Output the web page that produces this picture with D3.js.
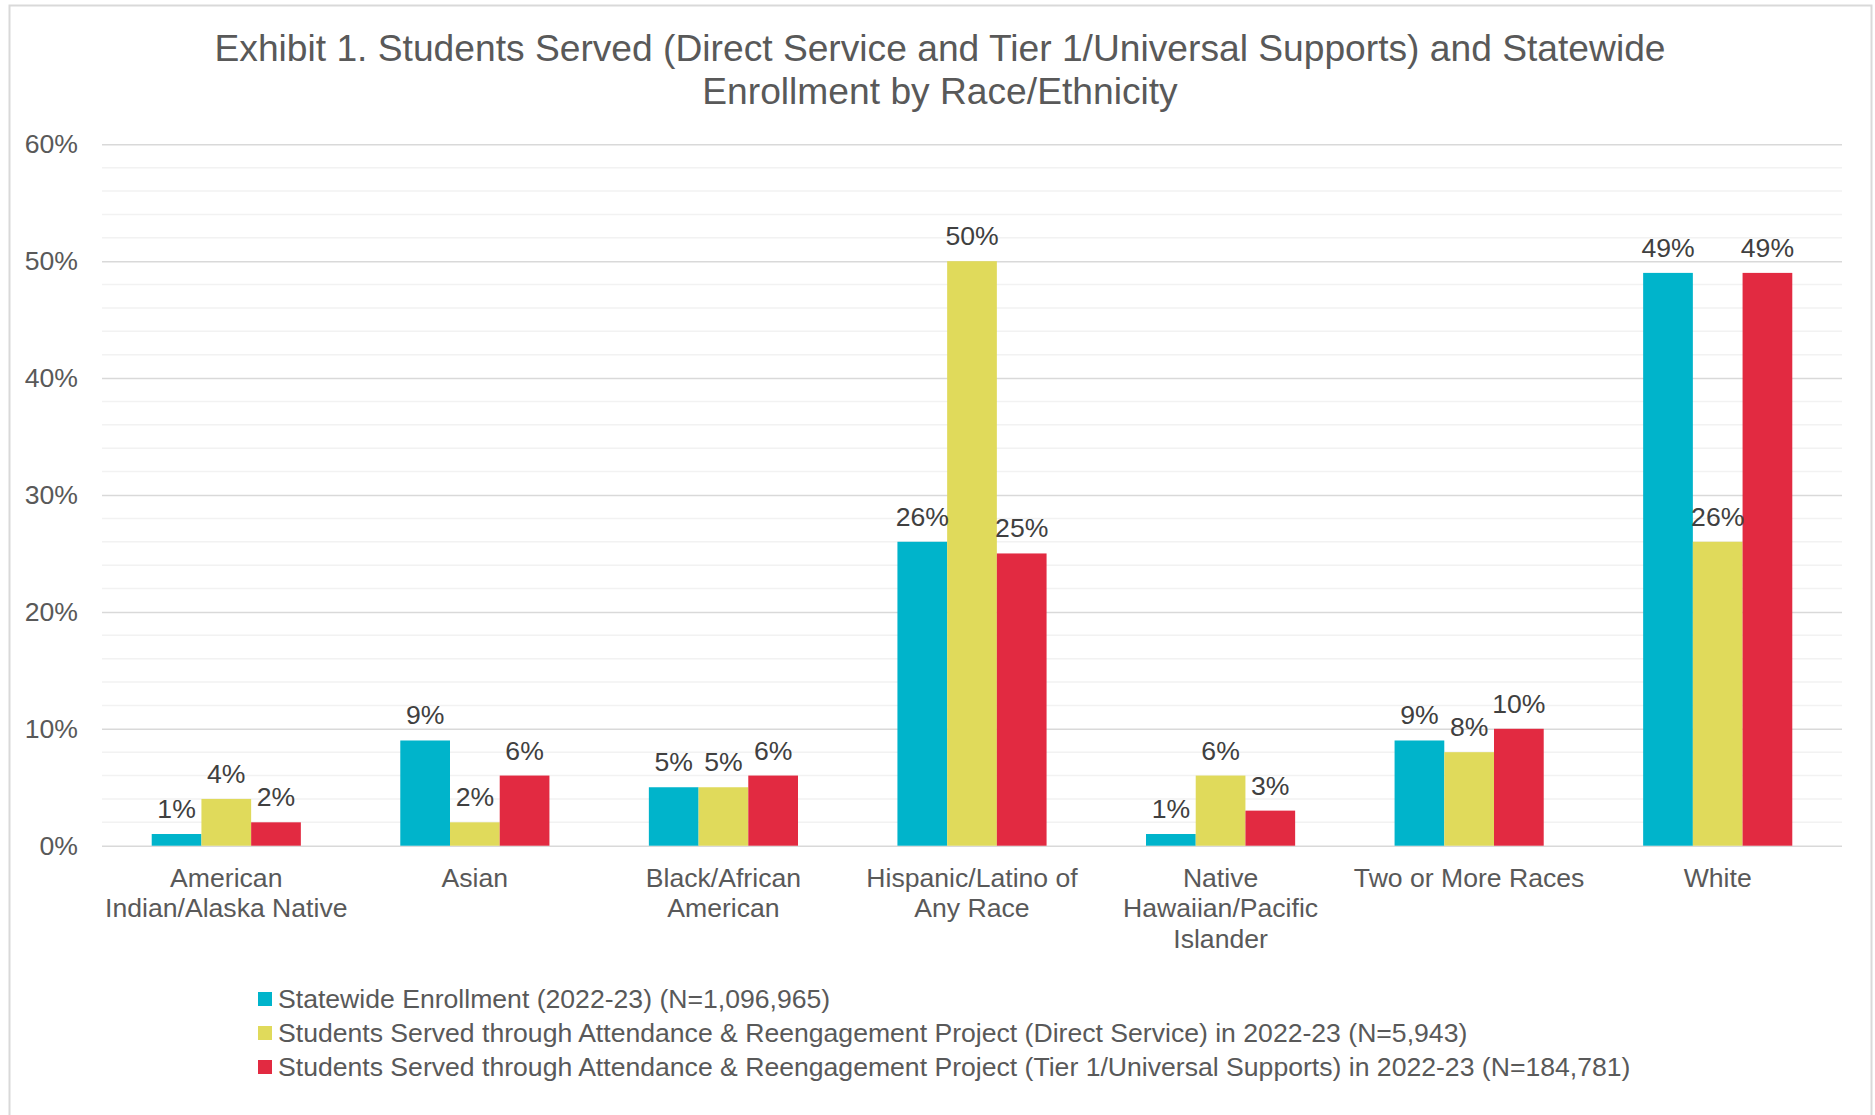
<!DOCTYPE html>
<html>
<head>
<meta charset="utf-8">
<script src="https://cdn.jsdelivr.net/npm/d3@7"></script>
<style>
  html, body { margin: 0; padding: 0; background: #fff; }
  svg { display: block; font-family: "Liberation Sans", Arial, sans-serif; }
</style>
</head>
<body>
<svg id="chart" width="1875" height="1115"></svg>
<script>
// Race/ethnicity categories (label lines as wrapped on the axis)
const categories = [
  "American Indian/Alaska Native",
  "Asian",
  "Black/African American",
  "Hispanic/Latino of Any Race",
  "Native Hawaiian/Pacific Islander",
  "Two or More Races",
  "White"
];
const categoryLines = [
  ["American", "Indian/Alaska Native"],
  ["Asian"],
  ["Black/African", "American"],
  ["Hispanic/Latino of", "Any Race"],
  ["Native", "Hawaiian/Pacific", "Islander"],
  ["Two or More Races"],
  ["White"]
];

// Series names
const seriesNames = [
  "Statewide Enrollment (2022-23) (N=1,096,965)",
  "Students Served through Attendance & Reengagement Project (Direct Service) in 2022-23 (N=5,943)",
  "Students Served through Attendance & Reengagement Project (Tier 1/Universal Supports) in 2022-23 (N=184,781)"
];

// Percent of students, one value per category
const statewideEnrollment = [1, 9, 5, 26, 1, 9, 49];
const directService       = [4, 2, 5, 50, 6, 8, 26];
const tier1Universal      = [2, 6, 6, 25, 3, 10, 49];

const yTicks = [0, 10, 20, 30, 40, 50, 60];
const titleLines = [
  "Exhibit 1. Students Served (Direct Service and Tier 1/Universal Supports) and Statewide",
  "Enrollment by Race/Ethnicity"
];

const seriesValues = [statewideEnrollment, directService, tier1Universal];
const colors = ["#00B4CB", "#E0DA5B", "#E22A41"];
const textColor = "#595959";
const fontSize = 26.6;

const svg = d3.select("#chart");

// Chart frame
svg.append("rect")
  .attr("x", 9.5).attr("y", 5.5)
  .attr("width", 1862).attr("height", 1120)
  .attr("fill", "#fff")
  .attr("stroke", "#D9D9D9").attr("stroke-width", 2);

// Title
svg.append("text")
  .attr("text-anchor", "middle")
  .attr("fill", textColor)
  .attr("font-size", 37.2)
  .selectAll("tspan")
  .data(titleLines)
  .join("tspan")
  .attr("x", 940)
  .attr("y", (d, i) => 61 + i * 42.5)
  .text(d => d);

const plot = { left: 102, right: 1842, top: 144.3, bottom: 845.7 };

const y = d3.scaleLinear().domain([0, 60]).range([plot.bottom, plot.top]);
const x0 = d3.scaleBand()
  .domain(categories)
  .range([plot.left, plot.right])
  .paddingInner(0.4)
  .paddingOuter(0.2);
const x1 = d3.scaleBand()
  .domain(d3.range(seriesValues.length))
  .range([0, x0.bandwidth()]);

// Minor gridlines every 2%
const minor = d3.range(2, 60, 2).filter(v => v % 10 !== 0);
svg.append("g")
  .selectAll("line")
  .data(minor)
  .join("line")
  .attr("x1", plot.left).attr("x2", plot.right)
  .attr("y1", d => y(d)).attr("y2", d => y(d))
  .attr("stroke", "#F2F2F2").attr("stroke-width", 1.5);

// Major gridlines and y-axis labels
const yAxis = d3.axisLeft(y)
  .tickValues(yTicks)
  .tickFormat(d => d + "%")
  .tickSize(-(plot.right - plot.left))
  .tickPadding(24);
const gy = svg.append("g")
  .attr("transform", `translate(${plot.left},0)`)
  .call(yAxis);
gy.select(".domain").remove();
gy.selectAll(".tick line").attr("stroke", "#D9D9D9").attr("stroke-width", 1.5);
gy.selectAll(".tick text")
  .attr("fill", textColor)
  .attr("font-size", fontSize)
  .attr("font-family", "Liberation Sans, Arial, sans-serif");

// Bars
const groups = svg.append("g")
  .selectAll("g")
  .data(categories)
  .join("g")
  .attr("transform", d => `translate(${x0(d)},0)`);

groups.selectAll("rect")
  .data((d, i) => seriesValues.map((s, k) => ({ k, v: s[i] })))
  .join("rect")
  .attr("x", d => x1(d.k))
  .attr("width", x1.bandwidth())
  .attr("y", d => y(d.v))
  .attr("height", d => y(0) - y(d.v))
  .attr("fill", d => colors[d.k]);

// Data labels
groups.selectAll("text")
  .data((d, i) => seriesValues.map((s, k) => ({ k, v: s[i] })))
  .join("text")
  .attr("x", d => x1(d.k) + x1.bandwidth() / 2)
  .attr("y", d => y(d.v) - 16)
  .attr("text-anchor", "middle")
  .attr("fill", "#404040")
  .attr("font-size", fontSize)
  .text(d => d.v + "%");

// Category labels
svg.append("g")
  .selectAll("text")
  .data(categories)
  .join("text")
  .attr("text-anchor", "middle")
  .attr("fill", textColor)
  .attr("font-size", fontSize)
  .each(function(d, i) {
    d3.select(this).selectAll("tspan")
      .data(categoryLines[i])
      .join("tspan")
      .attr("x", x0(d) + x0.bandwidth() / 2)
      .attr("y", (t, j) => 886.5 + j * 30.5)
      .text(t => t);
  });

// Legend
const legend = svg.append("g")
  .selectAll("g")
  .data(seriesNames)
  .join("g")
  .attr("transform", (d, i) => `translate(258,${999 + i * 34})`);
legend.append("rect")
  .attr("x", 0).attr("y", -7)
  .attr("width", 14).attr("height", 14)
  .attr("fill", (d, i) => colors[i]);
legend.append("text")
  .attr("x", 20).attr("y", 9)
  .attr("fill", textColor)
  .attr("font-size", fontSize)
  .text(d => d);
</script>
</body>
</html>
